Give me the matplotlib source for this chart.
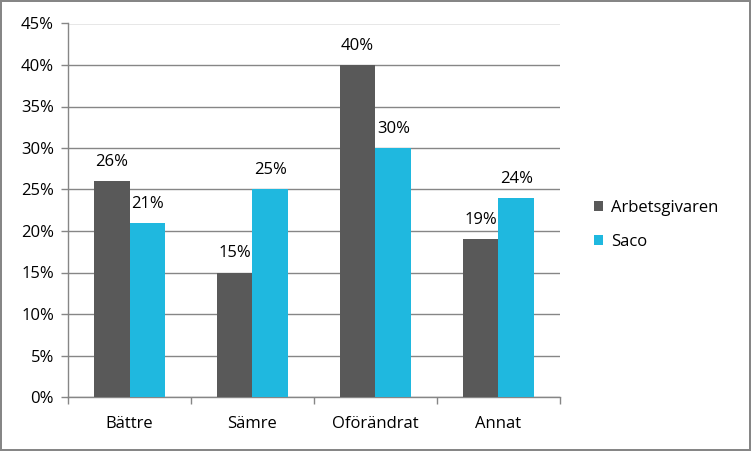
import numpy as np
import matplotlib.pyplot as plt
from matplotlib.ticker import PercentFormatter, FixedLocator

categories = ["Bättre", "Sämre", "Oförändrat", "Annat"]
arbetsgivaren = [26, 15, 40, 19]
saco = [21, 25, 30, 24]
series_names = ["Arbetsgivaren", "Saco"]

dark = "#595959"
cyan = "#1FB8DF"
grid_col = "#868686"
fs = 12

plt.rcParams['font.family'] = ['Open Sans', 'DejaVu Sans']

fig = plt.figure(figsize=(7.51, 4.51), dpi=100)
fig.patch.set_edgecolor(grid_col)
fig.patch.set_linewidth(1.5)
ax = fig.add_axes([68 / 751, 1 - 397 / 451, (560 - 68) / 751, (397 - 23.5) / 451])

x = np.arange(len(categories))
w = 0.29
b1 = ax.bar(x - w / 2, arbetsgivaren, w, color=dark, label=series_names[0], zorder=3)
b2 = ax.bar(x + w / 2, saco, w, color=cyan, label=series_names[1], zorder=3)

# value labels above each bar
for bars in (b1, b2):
    for r in bars:
        ax.annotate(f"{r.get_height():.0f}%", (r.get_x() + r.get_width() / 2, r.get_height()),
                    xytext=(0, 8), textcoords="offset points", ha="center", va="bottom",
                    fontsize=fs)

ax.set_xlim(-0.5, len(categories) - 0.5)
ax.set_ylim(0, 45)
ax.set_yticks(np.arange(0, 46, 5))
ax.yaxis.set_major_formatter(PercentFormatter(decimals=0))
ax.yaxis.grid(True, color=grid_col, linewidth=1, zorder=0)

ax.set_xticks(x)
ax.set_xticklabels(categories)
ax.xaxis.set_minor_locator(FixedLocator(np.arange(-0.5, len(categories), 1)))
ax.tick_params(axis="x", which="major", length=0, pad=14, labelsize=fs)
ax.tick_params(axis="x", which="minor", length=5, color=grid_col, width=1)
ax.tick_params(axis="y", length=5, color=grid_col, width=1, pad=5, labelsize=fs)

for s in ("top", "right"):
    ax.spines[s].set_visible(False)
for s in ("left", "bottom"):
    ax.spines[s].set_color(grid_col)
    ax.spines[s].set_linewidth(1)

fig.legend(handles=[b1, b2], loc="center left", bbox_to_anchor=(579 / 751, 1 - 225 / 451),
           frameon=False, fontsize=fs, handlelength=0.55, handleheight=0.55,
           handletextpad=0.45, labelspacing=1.1)

fig.savefig("out.png", dpi=100)
